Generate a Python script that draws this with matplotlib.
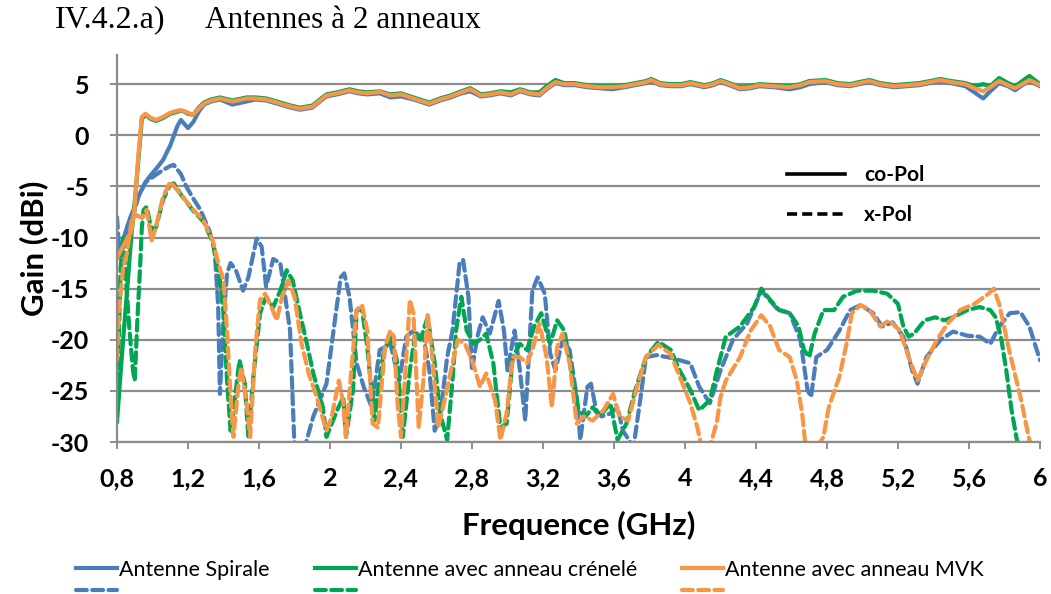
import matplotlib
matplotlib.use("Agg")
import matplotlib.pyplot as plt
from matplotlib.lines import Line2D

# ---- data (frequency in GHz, gain in dBi) ----
co_freq = [0.80, 0.83, 0.86, 0.88, 0.90, 0.92, 0.94, 0.96, 0.99, 1.02,
           1.06, 1.10, 1.14, 1.16, 1.18, 1.20, 1.23, 1.26, 1.29, 1.33,
           1.38, 1.45, 1.53, 1.58, 1.64, 1.72, 1.78, 1.83, 1.90, 1.95,
           1.98, 2.04, 2.11, 2.16, 2.21, 2.28, 2.34, 2.40, 2.47, 2.56,
           2.62, 2.68, 2.74, 2.79, 2.85, 2.90, 2.96, 3.02, 3.07, 3.13,
           3.18, 3.22, 3.27, 3.32, 3.38, 3.45, 3.52, 3.59, 3.66, 3.72,
           3.78, 3.81, 3.86, 3.92, 3.98, 4.03, 4.11, 4.16, 4.20, 4.25,
           4.31, 4.37, 4.42, 4.50, 4.59, 4.65, 4.70, 4.79, 4.86, 4.93,
           4.98, 5.04, 5.10, 5.18, 5.25, 5.32, 5.38, 5.44, 5.50, 5.58,
           5.63, 5.68, 5.72, 5.77, 5.82, 5.86, 5.90, 5.94, 6.00]

spirale_co = [-11, -10.5, -8.8, -7.8, -7.0, -6.0, -5.3, -4.6, -3.9, -3.3,
              -2.4, -1.0, 0.9, 1.5, 1.1, 0.7, 1.3, 2.3, 3.0, 3.3,
              3.5, 3.0, 3.3, 3.5, 3.4, 3.0, 2.7, 2.5, 2.7, 3.4,
              3.8, 4.0, 4.3, 4.1, 4.0, 4.1, 3.7, 3.8, 3.5, 3.0,
              3.4, 3.7, 4.1, 4.3, 3.8, 3.9, 4.1, 3.9, 4.3, 4.0,
              3.9, 4.5, 5.1, 4.9, 4.9, 4.7, 4.6, 4.5, 4.7, 4.9,
              5.1, 5.3, 4.9, 4.8, 4.8, 5.0, 4.7, 4.9, 5.2, 4.9,
              4.5, 4.6, 4.8, 4.7, 4.5, 4.7, 5.0, 5.2, 4.9, 4.8,
              5.0, 5.2, 4.9, 4.7, 4.8, 4.9, 5.1, 5.3, 5.1, 4.8,
              4.2, 3.6, 4.3, 5.1, 4.8, 4.4, 4.9, 5.3, 4.8]

crenele_co = [-28, -21, -14.5, -10, -6.5, -2.5, 1.6, 2.0, 1.6, 1.4,
              1.7, 2.1, 2.3, 2.4, 2.3, 2.1, 2.0, 2.7, 3.2, 3.5,
              3.7, 3.4, 3.7, 3.7, 3.6, 3.2, 2.9, 2.7, 2.9, 3.6,
              4.0, 4.2, 4.5, 4.3, 4.2, 4.3, 4.0, 4.1, 3.7, 3.2,
              3.6, 3.9, 4.3, 4.6, 4.0, 4.1, 4.3, 4.2, 4.5, 4.2,
              4.2, 4.8, 5.4, 5.1, 5.1, 4.9, 4.8, 4.8, 4.9, 5.1,
              5.3, 5.5, 5.1, 5.0, 5.0, 5.2, 4.9, 5.1, 5.4, 5.1,
              4.7, 4.8, 5.0, 4.9, 4.8, 5.0, 5.3, 5.4, 5.1, 5.0,
              5.2, 5.4, 5.1, 4.9, 5.0, 5.1, 5.3, 5.5, 5.3, 5.1,
              4.8, 5.0, 4.8, 5.6, 5.1, 4.8, 5.3, 5.8, 5.0]

mvk_co = [-12, -11, -10, -9.5, -7.0, -2.0, 1.8, 2.1, 1.7, 1.5,
          1.8, 2.2, 2.4, 2.45, 2.35, 2.2, 2.0, 2.6, 3.1, 3.4,
          3.6, 3.3, 3.6, 3.6, 3.5, 3.1, 2.8, 2.6, 2.8, 3.5,
          3.9, 4.1, 4.4, 4.2, 4.1, 4.25, 3.9, 4.0, 3.6, 3.1,
          3.5, 3.8, 4.2, 4.5, 3.9, 4.0, 4.2, 4.0, 4.4, 4.1,
          4.0, 4.6, 5.2, 5.0, 5.0, 4.8, 4.7, 4.7, 4.8, 5.0,
          5.2, 5.4, 5.0, 4.9, 4.9, 5.1, 4.8, 5.0, 5.3, 5.0,
          4.6, 4.7, 4.9, 4.8, 4.7, 4.9, 5.2, 5.3, 5.0, 4.9,
          5.1, 5.3, 5.0, 4.8, 4.9, 5.0, 5.2, 5.4, 5.2, 5.0,
          4.6, 4.3, 4.7, 5.3, 4.9, 4.6, 5.0, 5.4, 4.9]

spirale_x_freq = [0.80, 0.815, 0.83, 0.86, 0.89, 0.92, 0.96, 1.00, 1.05, 1.10,
                  1.12, 1.16, 1.19, 1.23, 1.27, 1.32, 1.35, 1.37, 1.38, 1.40,
                  1.42, 1.44, 1.47, 1.51, 1.54, 1.587, 1.615, 1.64, 1.68, 1.72,
                  1.775, 1.80, 1.85, 1.906, 1.98, 2.02, 2.06, 2.08, 2.11, 2.15,
                  2.19, 2.235, 2.28, 2.34, 2.39, 2.43, 2.47, 2.53, 2.56, 2.59,
                  2.62, 2.66, 2.69, 2.73, 2.75, 2.78, 2.80, 2.83, 2.86, 2.90,
                  2.95, 2.98, 3.00, 3.04, 3.07, 3.10, 3.14, 3.17, 3.21, 3.24,
                  3.27, 3.31, 3.35, 3.39, 3.41, 3.45, 3.47, 3.50, 3.53, 3.58,
                  3.62, 3.65, 3.71, 3.75, 3.78, 3.84, 3.93, 4.03, 4.08, 4.14,
                  4.20, 4.27, 4.35, 4.43, 4.52, 4.59, 4.65, 4.69, 4.71, 4.74,
                  4.80, 4.87, 4.93, 4.99, 5.06, 5.11, 5.17, 5.23, 5.28, 5.31,
                  5.36, 5.44, 5.51, 5.59, 5.66, 5.72, 5.77, 5.83, 5.89, 5.94,
                  6.00]
spirale_x = [-8, -12, -10.5, -10, -8, -6, -4.6, -4.1, -3.5, -3.0,
             -2.9, -3.8, -5.0, -6.2, -7.3, -9.3, -11.2, -16.7, -25.3, -18,
             -13.5, -12.5, -13.2, -15.2, -13.9, -10.1, -10.9, -14.8, -12.1, -12.5,
             -19.1, -30.5, -31, -27.5, -24.3, -19.1, -13.9, -13.5, -15.8, -22.3,
             -24.6, -26.6, -21.0, -20.4, -24.0, -19.7, -19.1, -20.0, -23.0, -28.9,
             -27.5, -21.7, -19.1, -12.5, -12.2, -15.8, -23.0, -19.7, -17.8, -19.4,
             -16.2, -19.1, -23.0, -19.1, -23.0, -27.9, -15.2, -13.9, -15.5, -21.3,
             -23.0, -20.0, -21.0, -25.6, -29.8, -24.6, -24.3, -26.9, -27.5, -27.2,
             -26.6, -28.9, -30.5, -25.6, -21.7, -21.5, -21.8, -22.3, -24.6, -26.2,
             -23.0, -20.0, -18.4, -15.2, -17.0, -17.4, -20.0, -24.9, -25.6, -21.7,
             -21.0, -19.1, -17.1, -16.6, -17.4, -18.7, -18.3, -19.7, -23.0, -24.3,
             -21.7, -20.0, -19.2, -19.6, -19.7, -20.4, -18.7, -17.4, -17.3, -18.7,
             -22.0]

crenele_x_freq = [0.80, 0.81, 0.82, 0.835, 0.85, 0.87, 0.89, 0.90, 0.915, 0.93,
                  0.94, 0.95, 0.967, 0.985, 1.00, 1.02, 1.06, 1.10, 1.12, 1.16,
                  1.23, 1.29, 1.34, 1.36, 1.38, 1.40, 1.42, 1.44, 1.456, 1.49,
                  1.52, 1.54, 1.57, 1.606, 1.64, 1.68, 1.72, 1.756, 1.79, 1.83,
                  1.87, 1.906, 1.96, 1.98, 2.04, 2.075, 2.09, 2.13, 2.15, 2.18,
                  2.21, 2.25, 2.27, 2.30, 2.34, 2.38, 2.41, 2.45, 2.48, 2.51,
                  2.55, 2.59, 2.62, 2.66, 2.69, 2.71, 2.74, 2.77, 2.81, 2.845,
                  2.88, 2.92, 2.96, 2.995, 3.03, 3.07, 3.11, 3.15, 3.19, 3.24,
                  3.28, 3.32, 3.36, 3.40, 3.44, 3.48, 3.52, 3.58, 3.62, 3.67,
                  3.72, 3.78, 3.85, 3.92, 3.97, 4.03, 4.08, 4.14, 4.18, 4.23,
                  4.31, 4.39, 4.43, 4.48, 4.53, 4.59, 4.64, 4.67, 4.70, 4.73,
                  4.78, 4.84, 4.89, 4.97, 5.06, 5.14, 5.20, 5.23, 5.26, 5.29,
                  5.35, 5.41, 5.46, 5.51, 5.59, 5.66, 5.72, 5.75, 5.78, 5.81,
                  5.84, 5.87, 5.90]
crenele_x = [-26, -20, -13, -10, -14, -19, -23, -24, -18, -12.9,
             -9.0, -7.3, -7.0, -8.5, -9.3, -9.0, -6.3, -4.8, -4.7, -5.8,
             -7.4, -8.5, -10.5, -12.5, -14.2, -17.4, -24.0, -28.9, -26.9, -22.0,
             -24.3, -29.5, -23.3, -17.4, -15.8, -16.8, -15.2, -13.2, -14.2, -17.4,
             -20.4, -23.3, -26.6, -29.5, -26.9, -25.6, -29.5, -24.9, -17.1, -17.0,
             -20.7, -27.9, -25.0, -21.5, -19.4, -22.3, -29.5, -23.0, -19.4, -20.0,
             -17.8, -22.3, -27.2, -29.8, -24.0, -19.1, -15.8, -19.1, -20.4, -20.0,
             -19.4, -22.3, -28.6, -28.2, -21.7, -20.4, -21.0, -18.7, -17.4, -20.4,
             -18.1, -19.1, -23.0, -26.9, -27.5, -26.6, -27.5, -26.2, -29.8, -28.2,
             -24.9, -21.7, -20.2, -21.0, -23.0, -24.9, -26.9, -25.9, -23.0, -19.7,
             -18.7, -16.8, -15.0, -16.1, -17.1, -17.4, -18.7, -21.0, -21.7, -19.4,
             -17.1, -17.1, -15.8, -15.2, -15.2, -15.5, -16.5, -18.7, -19.7, -19.4,
             -18.1, -17.8, -18.1, -17.8, -17.1, -16.8, -17.1, -17.8, -19.7, -23.0,
             -26.9, -29.8, -31]

mvk_x_freq = [0.80, 0.81, 0.835, 0.855, 0.883, 0.91, 0.94, 0.967, 0.995, 1.014,
              1.06, 1.10, 1.155, 1.23, 1.286, 1.34, 1.37, 1.40, 1.42, 1.44,
              1.456, 1.485, 1.50, 1.53, 1.55, 1.58, 1.606, 1.634, 1.67, 1.70,
              1.73, 1.765, 1.80, 1.84, 1.88, 1.925, 1.98, 2.01, 2.05, 2.075,
              2.09, 2.12, 2.15, 2.18, 2.21, 2.24, 2.27, 2.31, 2.34, 2.36,
              2.38, 2.40, 2.43, 2.45, 2.47, 2.50, 2.53, 2.55, 2.58, 2.61,
              2.65, 2.69, 2.72, 2.76, 2.80, 2.845, 2.88, 2.93, 2.96, 2.995,
              3.03, 3.07, 3.11, 3.145, 3.18, 3.22, 3.25, 3.28, 3.31, 3.35,
              3.39, 3.43, 3.48, 3.54, 3.595, 3.63, 3.68, 3.73, 3.78, 3.85,
              3.92, 3.97, 4.03, 4.07, 4.10, 4.14, 4.18, 4.20, 4.23, 4.31,
              4.37, 4.43, 4.48, 4.53, 4.59, 4.63, 4.66, 4.68, 4.73, 4.78,
              4.81, 4.87, 4.91, 4.94, 4.99, 5.04, 5.10, 5.15, 5.21, 5.26,
              5.31, 5.36, 5.42, 5.48, 5.55, 5.63, 5.71, 5.74, 5.77, 5.83,
              5.89, 5.94, 5.97]
mvk_x = [-22, -17.4, -12.9, -11.6, -8.3, -7.8, -8.1, -7.3, -10.3, -9.3,
         -6.0, -4.55, -5.7, -7.3, -8.3, -10.3, -12.5, -14.2, -19.1, -25.6,
         -29.5, -24.3, -22.7, -26.2, -29.5, -20.7, -16.1, -15.5, -16.8, -18.1,
         -15.8, -14.2, -15.8, -20.4, -23.3, -25.6, -28.9, -27.5, -24.0, -26.2,
         -29.5, -23.0, -17.1, -16.6, -19.1, -28.2, -28.6, -20.7, -19.1, -19.7,
         -26.2, -29.5, -21.7, -16.1, -17.4, -28.6, -23.3, -17.4, -22.3, -28.6,
         -25.6, -22.3, -20.0, -20.4, -22.0, -24.6, -23.3, -25.9, -29.8, -27.2,
         -21.7, -21.7, -22.3, -20.7, -18.4, -21.7, -26.6, -20.7, -19.4, -22.3,
         -28.2, -27.5, -27.9, -26.9, -25.3, -27.5, -27.9, -24.6, -21.7, -20.5,
         -21.4, -23.6, -26.2, -28.6, -31, -30.5, -28, -25.6, -24.0, -21.7,
         -19.1, -17.6, -18.7, -21.0, -21.7, -24.0, -27.2, -30.5, -31, -29.5,
         -26.6, -23.6, -20.4, -17.4, -16.6, -17.1, -18.7, -18.1, -19.1, -21.7,
         -24.0, -22.0, -20.0, -18.4, -17.1, -16.5, -15.5, -15.0, -16.5, -21.3,
         -25.6, -29.8, -31]

series_labels = ["Antenne Spirale", "Antenne avec anneau crénelé", "Antenne avec anneau MVK"]
colors = ["#4a7ebb", "#00a651", "#f79646"]

x_ticks = [0.8, 1.2, 1.6, 2.0, 2.4, 2.8, 3.2, 3.6, 4.0, 4.4, 4.8, 5.2, 5.6, 6.0]
x_tick_labels = ["0,8", "1,2", "1,6", "2", "2,4", "2,8", "3,2", "3,6", "4",
                 "4,4", "4,8", "5,2", "5,6", "6"]
y_ticks = [-30, -25, -20, -15, -10, -5, 0, 5]

# ---- figure ----
fig = plt.figure(figsize=(10.51, 5.94), dpi=100)
ax = fig.add_axes([117 / 1051, 1 - 442 / 594, 923 / 1051, 387 / 594])

grid_col = "#8c8c8c"
dash = (2.6, 1.3)
lw = 3.0

series = [
    (co_freq, spirale_co, spirale_x_freq, spirale_x),
    (co_freq, crenele_co, crenele_x_freq, crenele_x),
    (co_freq, mvk_co, mvk_x_freq, mvk_x),
]
handles = []
labels = []
for (cf, cg, xf, xg), col, lab in zip(series, colors, series_labels):
    h1, = ax.plot(cf, cg, color=col, lw=lw, solid_joinstyle="round")
    h2, = ax.plot(xf, xg, color=col, lw=lw, dashes=dash, dash_capstyle="round")
    handles += [h1, h2]
    labels += [lab, ""]

ax.set_xlim(0.8, 6.0)
ax.set_ylim(-30, 7.85)
ax.set_xticks(x_ticks)
ax.set_xticklabels(x_tick_labels)
ax.set_yticks(y_ticks)
ax.set_yticklabels([str(v) for v in y_ticks])

ax.grid(axis="y", color=grid_col, lw=1.6)
ax.set_axisbelow(True)
for s in ["top", "right"]:
    ax.spines[s].set_visible(False)
for s in ["left", "bottom"]:
    ax.spines[s].set_color(grid_col)
    ax.spines[s].set_linewidth(1.6)

ax.tick_params(axis="both", direction="out", length=5, width=1.4, color=grid_col,
               labelcolor="black")
ax.tick_params(axis="x", pad=13)
ax.tick_params(axis="y", pad=15)
for t in ax.get_xticklabels() + ax.get_yticklabels():
    t.set_fontfamily("Lato")
    t.set_fontweight("bold")
    t.set_fontsize(18)

ax.set_xlabel("Frequence (GHz)", family="Lato", weight="bold", size=22.5)
ax.xaxis.set_label_coords(0.5, -0.178)
ax.set_ylabel("Gain (dBi)", family="Lato", weight="bold", size=22.5)
ax.yaxis.set_label_coords(-0.075, 0.5)

# co-Pol / x-Pol key
pol_handles = [Line2D([], [], color="black", lw=2.6),
               Line2D([], [], color="black", lw=2.6, dashes=(2.8, 1.4))]
ax.legend(pol_handles, ["co-Pol", "x-Pol"], loc="upper left",
          bbox_to_anchor=((787 - 117) / 923, (442 - 165) / 387),
          frameon=False, borderpad=0, borderaxespad=0, handlelength=2.8,
          handletextpad=0.9, labelspacing=0.95,
          prop=dict(family="Lato", weight="bold", size=15))

# series legend at the bottom (dashed row partly cut off, as in the reference)
fig.legend(handles, labels, ncol=3, loc="upper left",
           bbox_to_anchor=(76 / 1051, 1 - 560 / 594), frameon=False,
           borderpad=0, borderaxespad=0, handlelength=1.9, handletextpad=0.1,
           columnspacing=2.1, labelspacing=0.05,
           prop=dict(family="Lato", size=15.5))

fig.text(55 / 1051, 1 - 20 / 594, "IV.4.2.a)", family="Liberation Serif",
         size=23, va="center", ha="left")
fig.text(205 / 1051, 1 - 20 / 594, "Antennes à 2 anneaux", family="Liberation Serif",
         size=22.5, va="center", ha="left")

fig.savefig("out.png", dpi=100)
